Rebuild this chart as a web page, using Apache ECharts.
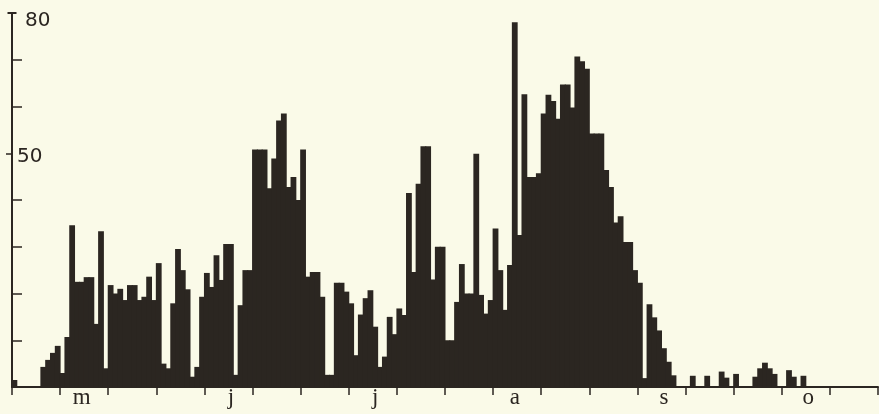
<!DOCTYPE html>
<html><head><meta charset="utf-8">
<script src="https://cdn.jsdelivr.net/npm/echarts@6/dist/echarts.min.js"></script>
<style>html,body{margin:0;padding:0;background:#fafae8;}#c{width:879px;height:414px;}</style>
</head><body><div id="c"></div>
<script>
// daily values, 180 days (late April .. October)
const values = [
 1.5,0,0,0,0,0,4.3,5.8,7.3,8.8,
 3,10.7,34.6,22.5,22.5,23.5,23.5,13.5,33.3,4,
 21.8,20,21,18.6,21.8,21.8,18.6,19.3,23.6,18.6,
 26.5,5,4,17.9,29.5,25,20.9,2.2,4.3,19.3,
 24.4,21.4,28.2,22.9,30.6,30.6,2.6,17.5,25,25,
 50.8,50.8,50.8,42.5,48.9,57,58.5,42.8,44.9,40,
 50.8,23.6,24.6,24.6,19.3,2.6,2.6,22.3,22.3,20.4,
 17.9,6.8,15.5,19,20.7,12.9,4.3,6.5,15,11.3,
 16.8,15.4,41.5,24.6,43.5,51.5,51.5,23,30,30,
 10,10,18.2,26.3,20,20,49.9,19.7,15.7,18.6,
 33.9,25,16.5,26.1,78,32.5,62.6,44.9,44.9,45.7,
 58.5,62.5,61.2,57.4,64.7,64.7,59.8,70.7,69.7,68.1,
 54.2,54.2,54.2,46.4,42.8,35.2,36.5,31,31,25,
 22.3,1.9,17.7,14.9,12.1,8.3,5.4,2.5,0,0,
 0,2.4,0,0,2.4,0,0,3.3,2,0,
 2.8,0,0,0,2.2,4,5.2,4,2.8,0,
 0,3.6,2.2,0,2.4,0,0,0,0,0,
 0,0,0,0,0,0,0,0,0,0
];
const days = values.map((v, i) => String(i + 1));
const monthLabels = ['m', 'j', 'j', 'a', 's', 'o'];
const monthLabelDays = [14, 45, 75, 104, 135, 165];
const yTickValues = [10, 20, 30, 40, 60, 70];
const yLabelValues = [50, 80];

const ink = '#2b2621';
const chart = echarts.init(document.getElementById('c'));
chart.setOption({
  animation: false,
  backgroundColor: '#fafae8',
  grid: {left: 12, right: 1, top: 13, bottom: 27},
  xAxis: {
    type: 'category', data: days, boundaryGap: true,
    axisLine: {lineStyle: {color: ink, width: 2}},
    axisTick: {show: true, interval: (i) => i % 10 === 0, length: 8, lineStyle: {color: ink, width: 1.5}},
    axisLabel: {
      interval: (i) => monthLabelDays.indexOf(i) >= 0,
      formatter: (v, i) => { const k = monthLabelDays.indexOf(i); return k >= 0 ? monthLabels[k] : ''; },
      fontFamily: 'Liberation Serif', fontSize: 23, color: ink, margin: -1
    },
    splitLine: {show: false}
  },
  yAxis: [{
    type: 'value', min: 0, max: 80, interval: 10,
    splitLine: {show: false},
    axisLine: {show: true, lineStyle: {color: ink, width: 2}, symbol: ['none', 'rect'], symbolSize: [9, 2]},
    axisTick: {show: true, inside: true, length: 10, customValues: yTickValues, lineStyle: {color: ink, width: 1.5}},
    axisLabel: {
      inside: true, margin: 4, customValues: yLabelValues,
      formatter: (v) => v === 80 ? '{a|80}' : '{b|50}',
      rich: {
        a: {fontFamily: 'DejaVu Sans', fontSize: 20, color: ink, padding: [16, 0, 0, 9]},
        b: {fontFamily: 'DejaVu Sans', fontSize: 20, color: ink, padding: [8, 0, 0, 1]}
      }
    }
  }, {
    type: 'value', min: 0, max: 80, position: 'left',
    splitLine: {show: false}, axisLine: {show: false},
    axisTick: {show: true, inside: false, length: 6, customValues: [50], lineStyle: {color: ink, width: 1.5}},
    axisLabel: {show: false}
  }],
  series: [{
    type: 'bar', data: values, barWidth: 5.8, silent: true,
    itemStyle: {color: ink}
  }]
});
</script></body></html>
